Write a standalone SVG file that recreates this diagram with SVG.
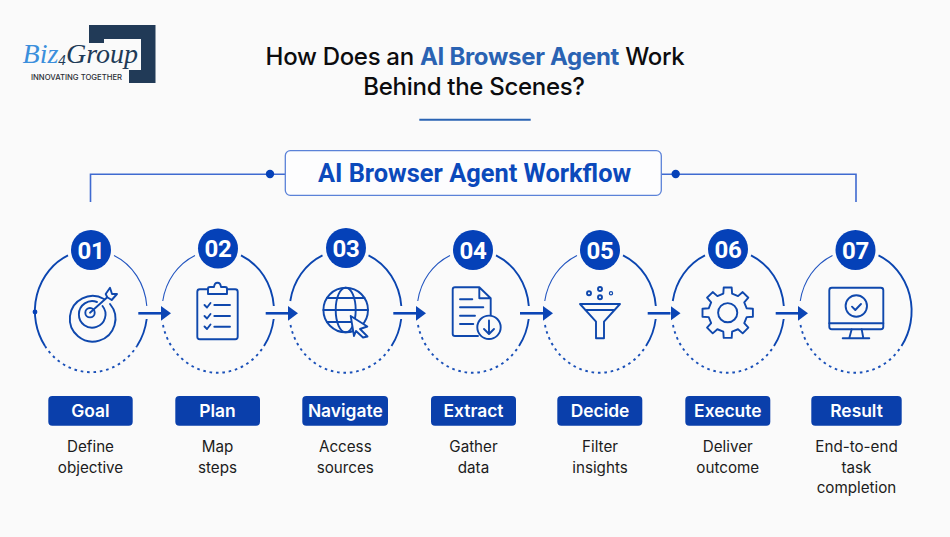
<svg xmlns="http://www.w3.org/2000/svg" width="950" height="537" viewBox="0 0 950 537">
<style>
text{font-family:"Inter","Liberation Sans",sans-serif;text-anchor:middle}
.title{font-size:24px;font-weight:500;fill:#0c0c0e;letter-spacing:-0.3px}
.hl{fill:#2a63b3;font-weight:700}
.head{font-family:"Roboto","Liberation Sans",sans-serif;font-size:25.4px;font-weight:700;fill:#0b49bb}
.num{font-family:"Roboto","Liberation Sans",sans-serif;font-size:24px;font-weight:700;fill:#fff;letter-spacing:-0.3px}
.tag{font-size:17.4px;font-weight:600;fill:#fff}
.desc{font-size:15.2px;font-weight:400;fill:#1c1c20}
.logo-script{font-family:"Liberation Serif",serif;font-style:italic;font-size:28px}
.badge{fill:#0541b8}
.tagbox{fill:#0a3fab}
.arc{fill:none;stroke:#0b45b0;stroke-width:1.9}
.thin{fill:none;stroke:#2255c0;stroke-width:1.1}
.dots{fill:none;stroke:#1a50b8;stroke-width:1.9;stroke-dasharray:2.6 3.8}
.ico{fill:none;stroke:#0f48ad;stroke-width:1.9;stroke-linejoin:round;stroke-linecap:round}
.wire{fill:none;stroke:#3f6ad0;stroke-width:1.6}
.flow{fill:none;stroke:#0b45b5;stroke-width:2.6}
.dot{fill:#0541b8}
</style>
<defs>
<marker id="ah" markerUnits="userSpaceOnUse" markerWidth="12" markerHeight="16" refX="0" refY="8" orient="auto"><path d="M0,0.6 L10,8 L0,15.4 Z" fill="#0b45b5"/></marker>
<path id="tl" d="M-23,-55.6 A56,61 0 0 0 -55.24,-10"/>
<path id="tr" d="M23,-55.6 A56,61 0 0 1 55.8,-5"/>
<path id="br" d="M55.7,8 A56,61 0 0 1 46,35"/>
<path id="bot" d="M-55,14 A56,61 0 0 0 46,35"/>
</defs>
<rect width="950" height="537" fill="#fafafa"/>

<g id="logo">
<path d="M89,25 H155.5 V83 H129 V70 H141 V39 H104 V43 H89 Z" fill="#213a57"/>
<text class="logo-script" x="40.5" y="62.5" style="fill:#3b8fdc">Biz</text>
<text class="logo-script" x="62" y="65" style="font-size:15px;fill:#213a57">4</text>
<text class="logo-script" x="102" y="62.5" style="fill:#213a57">Group</text>
<text x="76.5" y="80" style="font-size:7.7px;font-weight:500;fill:#2b2f36">INNOVATING TOGETHER</text>
</g>

<g id="title">
<text class="title" x="475" y="64.5">How Does an <tspan class="hl">AI Browser Agent</tspan> Work</text>
<text class="title" x="474" y="94.5">Behind the Scenes?</text>
<line x1="419.3" y1="119.7" x2="530.7" y2="119.7" stroke="#2a63b3" stroke-width="2"/>
</g>

<g id="connectors">
<path class="wire" d="M285.3,174.3 H90.5 V202"/>
<path class="wire" d="M661.3,174.3 H856 V202"/>
<circle class="dot" cx="270" cy="174" r="4.2"/>
<circle class="dot" cx="675.7" cy="174" r="4.2"/>
<line class="flow" x1="138.3" y1="313.3" x2="161" y2="313.3" marker-end="url(#ah)"/>
<line class="flow" x1="265.7" y1="313.3" x2="288" y2="313.3" marker-end="url(#ah)"/>
<line class="flow" x1="393.3" y1="313.3" x2="416" y2="313.3" marker-end="url(#ah)"/>
<line class="flow" x1="520" y1="313.3" x2="543" y2="313.3" marker-end="url(#ah)"/>
<line class="flow" x1="647.7" y1="313.3" x2="670.5" y2="313.3" marker-end="url(#ah)"/>
<line class="flow" x1="775.7" y1="313.3" x2="798" y2="313.3" marker-end="url(#ah)"/>
</g>

<g id="workflow-title">
<rect x="285.3" y="150.7" width="376" height="44.6" rx="5" fill="#fdfdfe" stroke="#5b82d8" stroke-width="1.3"/>
<text class="head" x="474.5" y="182">AI Browser Agent Workflow</text>
</g>

<g id="node-01">
<g transform="translate(91,311)">
<path class="arc" d="M-23,-55.6 A56,61 0 0 0 -46,35"/>
<use href="#tr" class="thin"/>
<use href="#br" class="arc"/>
<path class="dots" d="M-46,35 A56,61 0 0 0 46,35"/>
<circle class="dot" cx="-56" cy="1" r="2.4"/>
</g>
<circle class="badge" cx="91" cy="250" r="20"/>
<text class="num" x="91" y="258.5">01</text>
<g class="ico">
<path d="M104,299 A22.8,22.8 0 1 0 110,304"/>
<path d="M97,302 A13.3,13.3 0 1 0 102.5,306"/>
<circle cx="90" cy="312.7" r="4.7"/>
<path d="M90,312.7 L107.3,297.3"/>
<path d="M105.7,294 L110,287.7 L112,294 L117,294 L111.7,300 L107.3,297.3 Z"/>
</g>
<rect class="tagbox" x="48.3" y="396" width="84.4" height="29.7" rx="4"/>
<text class="tag" x="90.5" y="417">Goal</text>
<text class="desc" x="90.5" y="451.7">Define</text>
<text class="desc" x="90.5" y="472.7">objective</text>
</g>

<g id="node-02">
<g transform="translate(218,311)">
<use href="#tl" class="thin"/>
<use href="#tr" class="arc"/>
<use href="#br" class="arc"/>
<use href="#bot" class="dots"/>
</g>
<circle class="badge" cx="218" cy="248.5" r="20"/>
<text class="num" x="218" y="257">02</text>
<g class="ico">
<rect x="197.3" y="289.3" width="40.4" height="50" rx="2.5"/>
<path d="M208,294 V288.5 Q208,287 210,287 H214 Q214.5,282.7 217.5,282.7 Q220.5,282.7 221,287 H225 Q227,287 227,288.5 V294 Z" fill="#fafafa"/>
<path d="M204.5,305 L207,307.5 L210.5,303 M204.5,316 L207,318.5 L210.5,314 M204.5,326.5 L207,329 L210.5,324.5"/>
<path d="M214.3,305 H230 M214.3,316 H230 M214.3,326.7 H230"/>
</g>
<rect class="tagbox" x="175.3" y="396" width="84.7" height="29.7" rx="4"/>
<text class="tag" x="217.5" y="417">Plan</text>
<text class="desc" x="217.5" y="451.7">Map</text>
<text class="desc" x="217.5" y="472.7">steps</text>
</g>

<g id="node-03">
<g transform="translate(345.5,311)">
<use href="#tl" class="arc"/>
<use href="#tr" class="arc"/>
<use href="#br" class="arc"/>
<use href="#bot" class="dots"/>
</g>
<circle class="badge" cx="346" cy="248" r="20"/>
<text class="num" x="346" y="256.5">03</text>
<g class="ico">
<circle cx="345.7" cy="310" r="22.3"/>
<ellipse cx="345.7" cy="310" rx="10" ry="22.3"/>
<path d="M323.4,310 H368 M327,298 H364.5 M327,322 H352"/>
<path d="M350.7,316 L367.3,326.5 L360,329 L367.5,336.5 L363,337.5 L356,331 L354,336 Z" fill="#fafafa"/>
</g>
<rect class="tagbox" x="302.3" y="396" width="85.7" height="29.7" rx="4"/>
<text class="tag" x="345.3" y="417">Navigate</text>
<text class="desc" x="345.3" y="451.7">Access</text>
<text class="desc" x="345.3" y="472.7">sources</text>
</g>

<g id="node-04">
<g transform="translate(473,311)">
<use href="#tl" class="thin"/>
<use href="#tr" class="arc"/>
<use href="#br" class="arc"/>
<use href="#bot" class="dots"/>
</g>
<circle class="badge" cx="473" cy="250" r="20"/>
<text class="num" x="473" y="258.5">04</text>
<g class="ico">
<path d="M479.3,287.3 H455 Q452.7,287.3 452.7,289.5 V334 Q452.7,336 455,336 H478 M490.7,316 V298.3 L479.3,287.3 V298.3 H490.7"/>
<path d="M460,299.3 H472.3 M460,307.3 H483.3 M460,315.7 H475 M460,324 H473.3"/>
<circle cx="489" cy="327.3" r="11.7" fill="#fafafa"/>
<path d="M489,320.5 V333.5 M484,329 L489,334 L494,329"/>
</g>
<rect class="tagbox" x="431" y="396" width="85" height="29.7" rx="4"/>
<text class="tag" x="473.5" y="417">Extract</text>
<text class="desc" x="473.5" y="451.7">Gather</text>
<text class="desc" x="473.5" y="472.7">data</text>
</g>

<g id="node-05">
<g transform="translate(600,311)">
<use href="#tl" class="thin"/>
<use href="#tr" class="arc"/>
<use href="#br" class="arc"/>
<use href="#bot" class="dots"/>
</g>
<circle class="badge" cx="600" cy="250" r="20"/>
<text class="num" x="600" y="258.5">05</text>
<g class="ico">
<path d="M580,304 H620 L604,321.7 V338.3 H596 V321.7 Z"/>
<path d="M585.7,310 H614.3"/>
<circle cx="589" cy="293.3" r="2"/>
<circle cx="600" cy="289" r="2"/>
<circle cx="600" cy="297.3" r="2"/>
<circle cx="611" cy="293.3" r="1.6" stroke-width="1.2"/>
</g>
<rect class="tagbox" x="557.3" y="396" width="85" height="29.7" rx="4"/>
<text class="tag" x="600" y="417">Decide</text>
<text class="desc" x="600" y="451.7">Filter</text>
<text class="desc" x="600" y="472.7">insights</text>
</g>

<g id="node-06">
<g transform="translate(728,311)">
<use href="#tl" class="arc"/>
<use href="#tr" class="arc"/>
<use href="#br" class="arc"/>
<use href="#bot" class="dots"/>
</g>
<circle class="badge" cx="728" cy="249" r="20"/>
<text class="num" x="728" y="257.5">06</text>
<g class="ico" transform="translate(727.7,312.7)">
<path d="M-4.4,-19 L-4,-25.2 L4,-25.2 L4.4,-19 L10.32,-16.55 L14.99,-20.65 L20.65,-14.99 L16.55,-10.32 L19,-4.4 L25.2,-4 L25.2,4 L19,4.4 L16.55,10.32 L20.65,14.99 L14.99,20.65 L10.32,16.55 L4.4,19 L4,25.2 L-4,25.2 L-4.4,19 L-10.32,16.55 L-14.99,20.65 L-20.65,14.99 L-16.55,10.32 L-19,4.4 L-25.2,4 L-25.2,-4 L-19,-4.4 L-16.55,-10.32 L-20.65,-14.99 L-14.99,-20.65 L-10.32,-16.55 Z"/>
<circle cx="0" cy="0" r="9.6"/>
</g>
<rect class="tagbox" x="685.3" y="396" width="85" height="29.7" rx="4"/>
<text class="tag" x="727.8" y="417">Execute</text>
<text class="desc" x="727.8" y="451.7">Deliver</text>
<text class="desc" x="727.8" y="472.7">outcome</text>
</g>

<g id="node-07">
<g transform="translate(855.5,311)">
<use href="#tl" class="thin"/>
<path class="arc" d="M23,-55.6 A56,61 0 0 1 46,35"/>
<use href="#bot" class="dots"/>
</g>
<circle class="badge" cx="855.5" cy="250" r="20"/>
<text class="num" x="855.5" y="258.5">07</text>
<g class="ico">
<rect x="829.3" y="287.7" width="54" height="41.6" rx="2.5"/>
<path d="M829.3,323.3 H883.3"/>
<path d="M851.7,329.3 L849.3,338 M861.7,329.3 L863.3,338 M842.7,338.3 H869.3"/>
<circle cx="856.3" cy="306" r="10.7"/>
<path d="M852,306.7 L855.3,310 L861,304"/>
</g>
<rect class="tagbox" x="811.3" y="396" width="90.4" height="29.7" rx="4"/>
<text class="tag" x="856.5" y="417">Result</text>
<text class="desc" x="856.5" y="451.7">End-to-end</text>
<text class="desc" x="856.5" y="472.7">task</text>
<text class="desc" x="856.5" y="493.3">completion</text>
</g>
</svg>
